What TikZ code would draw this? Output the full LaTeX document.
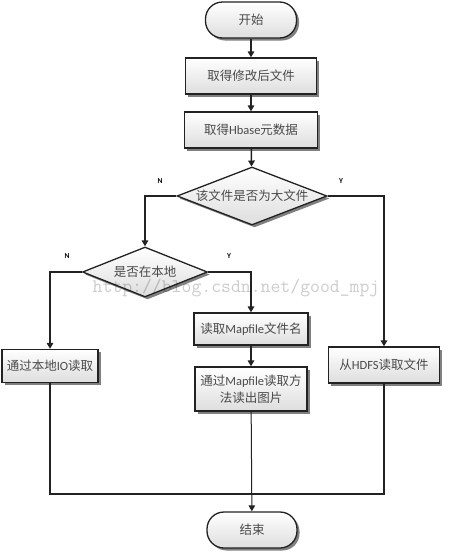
\documentclass[tikz,border=0pt]{standalone}
\usepackage{fontspec}
\setmainfont{Carlito}
\newfontfamily\cjk{Noto Sans CJK SC}
\newcommand\lat[1]{{\rmfamily #1}}
\usetikzlibrary{shapes.geometric,shadows,arrows.meta}
\definecolor{lineC}{HTML}{222222}
\definecolor{txtC}{HTML}{4A4A4A}
\definecolor{shadowC}{HTML}{808080}
\tikzset{
  boxbase/.style={draw=lineC, line width=1.3pt, top color=white, bottom color=black!13,
    text=txtC, font=\cjk\fontsize{12.5}{17}\selectfont,
    drop shadow={shadow xshift=2.5pt, shadow yshift=-2.5pt, fill=shadowC, opacity=1}},
  procbox/.style={boxbase, rectangle, inner sep=0pt, align=center},
  termbox/.style={boxbase, rectangle, rounded corners=17pt, inner sep=0pt},
  decbox/.style={boxbase, diamond, inner sep=0pt, shape aspect=2.7},
  conn/.style={draw=lineC, line width=1.5pt, -{Triangle[length=6pt,width=6.5pt]}},
  plainconn/.style={draw=lineC, line width=1.5pt},
  yn/.style={font=\bfseries\fontsize{7.5}{9}\selectfont, text=black, inner sep=0pt},
  wm/.style={font=\ttfamily\fontsize{19.2}{20}\selectfont, text=black, opacity=0.2, inner sep=0pt}
}
\begin{document}
\begin{tikzpicture}[x=1pt,y=-1pt]
\useasboundingbox (0,0) rectangle (450,552);
\fill[white] (0,0) rectangle (450,552);

\node[termbox, minimum width=91pt, minimum height=36pt] (start) at (251,20) {开始};
\node[procbox, minimum width=131pt, minimum height=36pt] (b1) at (251,76) {取得修改后文件};
\node[procbox, minimum width=133pt, minimum height=36pt] (b2) at (251,130) {取得\lat{Hbase}元数据};
\node[decbox, minimum width=150pt, minimum height=58pt] (d1) at (252,196) {该文件是否为大文件};
\node[decbox, minimum width=125pt, minimum height=50pt, shape aspect=2.5] (d2) at (145,272) {是否在本地};
\node[procbox, minimum width=96pt, minimum height=33pt] (local) at (50,366) {通过本地\lat{IO}读取};
\node[procbox, minimum width=114pt, minimum height=32pt] (map1) at (251,329) {读取\lat{Mapfile}文件名};
\node[procbox, minimum width=112pt, minimum height=44pt] (map2) at (251,389) {通过\lat{Mapfile}读取方\\法读出图片};
\node[procbox, minimum width=111pt, minimum height=36pt] (hdfs) at (384,365) {从\lat{HDFS}读取文件};
\node[termbox, minimum width=90pt, minimum height=36pt] (end) at (252,530) {结束};

\node[yn] (n1) at (160,181) {N};
\node[yn] (y1) at (341,181) {Y};
\node[yn] (n2) at (67,256) {N};
\node[yn] (y2) at (229,256) {Y};

\coordinate (bl) at (50,494);
\coordinate (br) at (384,494);

\draw[conn] (start) -- (b1);
\draw[conn] (b1) -- (b2);
\draw[conn] (b2) -- (d1);
\draw[conn] (d1.west) -| (d2.north);
\draw[conn] (d1.east) -| (hdfs.north);
\draw[conn] (d2.west) -| (local.north);
\draw[conn] (d2.east) -| (map1.north);
\draw[conn] (map1) -- (map2);
\draw[plainconn] (local) -- (bl) -- (br) -- (hdfs);
\draw[conn, line width=1pt] (map2) -- (end);

\node[wm] (wmark) at (236,288) {http://blog.csdn.net/good\_mpj};
\end{tikzpicture}
\end{document}
